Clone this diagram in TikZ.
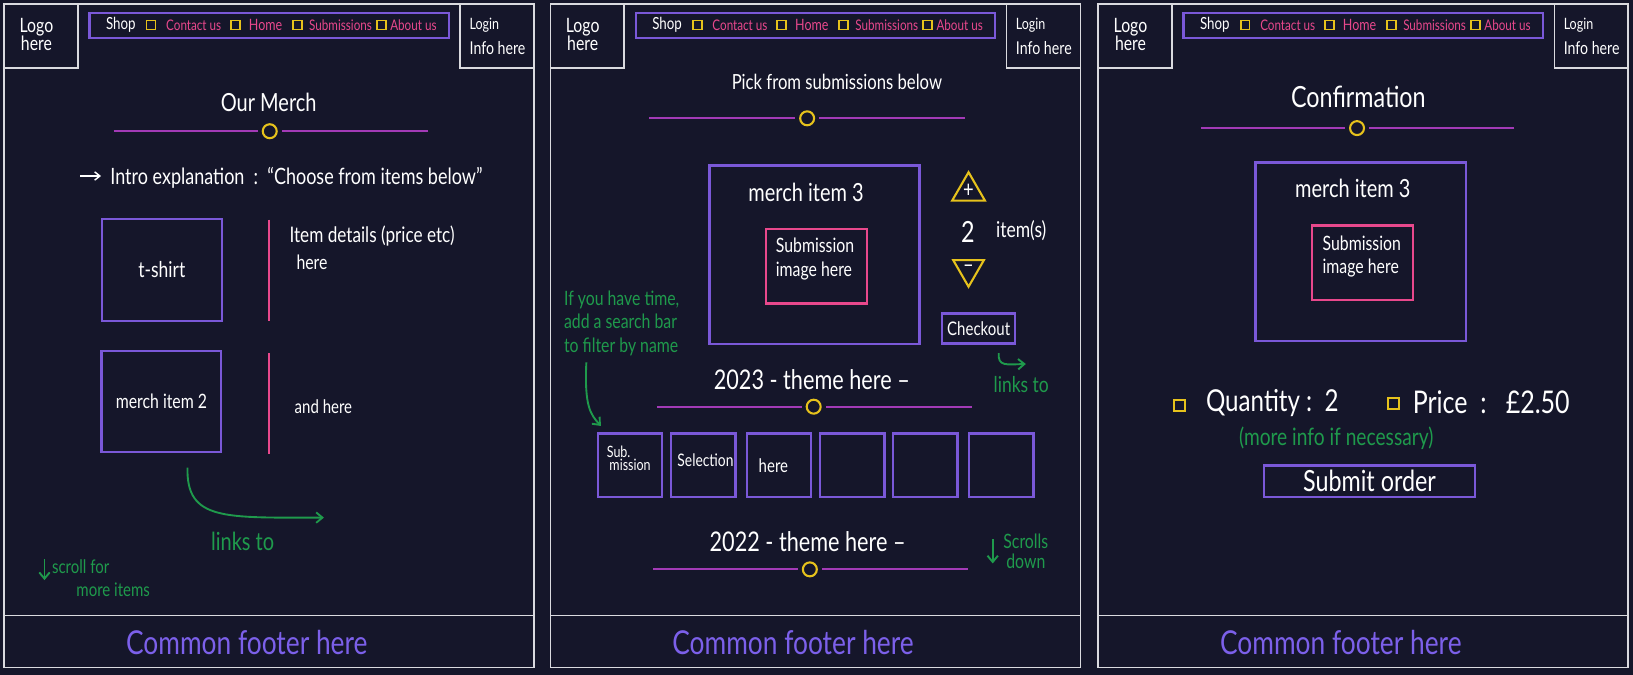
\documentclass[tikz,border=0pt]{standalone}
\usepackage{fontspec}
\usetikzlibrary{shapes.geometric,arrows.meta}
\newfontfamily\hand[FakeStretch=0.8]{Lato}
\definecolor{bgc}{HTML}{15162A}
\definecolor{framec}{HTML}{DADADF}
\definecolor{purp}{HTML}{7A58D8}
\definecolor{magc}{HTML}{A23AB6}
\definecolor{pinkc}{HTML}{E8488C}
\definecolor{yelc}{HTML}{E6C21C}
\definecolor{grnc}{HTML}{1F9A4C}
\definecolor{footc}{HTML}{7C60EA}
\tikzset{
  every node/.style={inner sep=0pt, outer sep=0pt},
  hw/.style={font=\hand\fontsize{#1}{#1}\selectfont, text=white},
  hwl/.style 2 args={font=\hand\fontsize{#1}{#2}\selectfont, text=white},
  sz/.style 2 args={minimum width=#1*0.5pt, minimum height=#2*0.5pt},
  frame/.style={draw=framec, line width=0.85pt},
  pbox/.style={draw=purp, line width=1.1pt},
  pkbox/.style={draw=pinkc, line width=1.1pt},
  ysq/.style={draw=yelc, line width=0.9pt, minimum size=#1*0.5pt},
  ysq/.default=8.6,
  ycirc/.style={circle, draw=yelc, line width=1pt, minimum size=13.4*0.5pt},
  tri/.style={regular polygon, regular polygon sides=3, draw=yelc, line width=1pt, minimum size=34*0.5pt},
  magline/.style={draw=magc, line width=0.9pt},
  pinkline/.style={draw=pinkc, line width=1pt},
  garrow/.style={draw=grnc, line width=0.9pt, -{Straight Barb[length=3pt,width=5pt]}},
  warrow/.style={draw=white, line width=0.7pt, -{Straight Barb[length=2.5pt,width=4pt]}},
  gtxt/.style={text=grnc},
}
\begin{document}
\begin{tikzpicture}[x=0.5pt,y=-0.5pt]
\fill[bgc] (0,0) rectangle (1568,648);
\useasboundingbox (0,0) rectangle (1568,648);

% ---------- common panel parts ----------
\foreach \o/\p in {0/a,524.5/b,1050.5/c}{
  \node[frame, sz={509}{637}] (frame\p) at (\o+258.5,322.5) {};
  \node[frame, sz={71}{61}] (logo\p) at (\o+39.5,34.5) {};
  \node[frame, sz={71}{61}] (login\p) at (\o+477.5,34.5) {};
  \node[hwl={9.5}{8.8}, align=center] (logot\p) at (\o+35,33) {Logo\\here};
  \node[hw=7.5, anchor=west] (logint\p) at (\o+451,24) {Login};
  \node[hw=8.5, anchor=west] (infot\p) at (\o+451,46) {Info here};
  \node[pbox, sz={345}{24.5}] (nav\p) at (\o+258.5,24.5) {};
  \node[hw=8] (shop\p) at (\o+116,24) {Shop};
  \node[ysq] (sqa\p) at (\o+145,24) {};
  \node[hw=7, text=pinkc] (contact\p) at (\o+186,24) {Contact us};
  \node[ysq] (sqb\p) at (\o+226,24) {};
  \node[hw=7.5, text=pinkc] (home\p) at (\o+255,24) {Home};
  \node[ysq] (sqc\p) at (\o+285.7,24) {};
  \node[hw=7, text=pinkc] (subs\p) at (\o+327,24) {Submissions};
  \node[ysq] (sqd\p) at (\o+366,24) {};
  \node[hw=7, text=pinkc] (about\p) at (\o+397,24) {About us};
  \coordinate (fl\p) at (\o+4,591);
  \coordinate (fr\p) at (\o+513,591);
  \draw[frame] (fl\p) -- (fr\p);
  \node[hw=15.8, text=footc] (foot\p) at (\o+237,617) {Common footer here};
}

% ---------- panel 1 ----------
\node[hw=12] (title1) at (258,98) {Our Merch};
\node[ycirc] (ca) at (259,126) {};
\coordinate (cal) at (109,126); \coordinate (car) at (411,126);
\draw[magline, shorten >=2.5pt] (cal) -- (ca.west);
\draw[magline, shorten >=2.5pt] (car) -- (ca.east);
\coordinate (ia1) at (77,169); \coordinate (ia2) at (97,169);
\draw[warrow] (ia1) -- (ia2);
\node[hw=10.8, anchor=west] (intro) at (106,171) {Intro explanation~~:~~“Choose from items below”};
\node[pbox, sz={115}{97.6}, hw=10.5] (tshirt) at (155.4,259.1) {t-shirt};
\coordinate (pa1) at (258.7,211); \coordinate (pa2) at (258.7,308);
\draw[pinkline] (pa1) -- (pa2);
\node[hw=10.3, anchor=west] (det) at (278,227) {Item details (price etc)};
\node[hw=9.5, anchor=west] (det2) at (284.7,252) {here};
\node[pbox, sz={115}{97.6}, hw=9.5] (merch2) at (155,385.5) {merch item 2};
\coordinate (pb1) at (258.7,339); \coordinate (pb2) at (258.7,436);
\draw[pinkline] (pb1) -- (pb2);
\node[hw=9, anchor=west] (andhere) at (283,390.5) {and here};
\coordinate (ga1) at (180,449); \coordinate (ga2) at (311,497);
\draw[garrow] (ga1) .. controls (179,500) and (215,497) .. (ga2);
\node[hw=12, gtxt] (links1) at (233,520) {links to};
\coordinate (sa1) at (42.7,537); \coordinate (sa2) at (42.7,557);
\draw[garrow] (sa1) -- (sa2);
\node[hw=9, gtxt, anchor=west] (scroll1) at (50,544) {scroll for};
\node[hw=9, gtxt, anchor=west] (scroll2) at (73.4,566.5) {more items};

% ---------- panel 2 ----------
\node[hw=10] (title2) at (803.6,79) {Pick from submissions below};
\node[ycirc] (cb) at (775,113.6) {};
\coordinate (cbl) at (623.4,113.6); \coordinate (cbr) at (926.6,113.6);
\draw[magline, shorten >=2.5pt] (cbl) -- (cb.west);
\draw[magline, shorten >=2.5pt] (cbr) -- (cb.east);
\node[pbox, sz={201.5}{171.3}] (big2) at (782,244.7) {};
\node[hw=12] (m3b) at (774,185) {merch item 3};
\node[pkbox, sz={97}{71.4}] (img2) at (784,255.6) {};
\node[hwl={9.5}{11.2}, align=left, anchor=west] (img2t) at (745,248.7) {Submission\\image here};
\node[tri, hw=11] (plus) at (930,183.5) {+};
\node[tri, shape border rotate=180, hw=11] (minus) at (930,258.3) {–};
\node[hw=14] (qty2) at (929.3,222.5) {2};
\node[hw=10.5] (items) at (980.6,221.5) {item(s)};
\node[pbox, sz={69.8}{28.8}, hw=9] (checkout) at (939.7,315.3) {Checkout};
\coordinate (ha1) at (959,339); \coordinate (ha2) at (985,349.5);
\draw[garrow] (ha1) .. controls (958,352) and (966,350) .. (ha2);
\node[hw=10.5, gtxt] (links2) at (980.6,369.7) {links to};
\node[hwl={9.5}{11.25}, gtxt, align=left, anchor=west] (note) at (541.6,310.5) {If you have time,\\add a search bar\\to filter by name};
\coordinate (na1) at (563,348); \coordinate (na2) at (577,409);
\draw[garrow] (na1) .. controls (561,390) and (567,398) .. (na2);
\node[hw=13] (y2023) at (779.5,364.3) {2023 - theme here –};
\node[ycirc] (cc) at (781.3,390.5) {};
\coordinate (ccl) at (630.8,390.5); \coordinate (ccr) at (933,390.5);
\draw[magline, shorten >=2.5pt] (ccl) -- (cc.west);
\draw[magline, shorten >=2.5pt] (ccr) -- (cc.east);
\foreach \cx [count=\i] in {604.9,675.35,748.1,818.5,888.6,961.35}
  \node[pbox, sz={61.8}{61.4}] (sel\i) at (\cx,446.8) {};
\node[hwl={7.5}{6.4}, align=left, anchor=west] (subt) at (582.7,440) {Sub.\\\,mission};
\node[hw=8.3] (selt) at (677.4,441.7) {Selection};
\node[hw=9] (heret) at (742.6,447.5) {here};
\node[hw=13] (y2022) at (775.5,520.1) {2022 - theme here –};
\node[ycirc] (cd) at (777.6,546.7) {};
\coordinate (cdl) at (627.4,546.7); \coordinate (cdr) at (929.2,546.7);
\draw[magline, shorten >=2.5pt] (cdl) -- (cd.west);
\draw[magline, shorten >=2.5pt] (cdr) -- (cd.east);
\coordinate (sb1) at (953.2,518); \coordinate (sb2) at (953.2,541);
\draw[garrow] (sb1) -- (sb2);
\node[hwl={9.5}{9.5}, gtxt, align=center] (scrolls) at (985,529) {Scrolls\\down};

% ---------- panel 3 ----------
\node[hw=14] (title3) at (1304.3,93) {Confirmation};
\node[ycirc] (ce) at (1303,123) {};
\coordinate (cel) at (1153,123); \coordinate (cer) at (1454,123);
\draw[magline, shorten >=2.5pt] (cel) -- (ce.west);
\draw[magline, shorten >=2.5pt] (cer) -- (ce.east);
\node[pbox, sz={201.9}{171.2}] (big3) at (1306.5,241.5) {};
\node[hw=12] (m3c) at (1299,180.8) {merch item 3};
\node[pkbox, sz={97}{71.6}] (img3) at (1308.5,252.2) {};
\node[hwl={9.5}{11.2}, align=left, anchor=west] (img3t) at (1270,246) {Submission\\image here};
\node[ysq=10.6] (sqq) at (1132.4,389.5) {};
\node[hw=14.5, anchor=west] (quant) at (1158,387) {Quantity~:~~2};
\node[ysq=10.6] (sqp) at (1337.9,387.3) {};
\node[hw=15, anchor=west] (price) at (1356.5,386) {Price~~:~~~£2.50};
\node[hw=11.5, gtxt] (moreinfo) at (1283,421) {(more info if necessary)};
\node[pbox, sz={202}{29.8}, hw=14] (submit) at (1315,462) {Submit order};
\end{tikzpicture}
\end{document}
